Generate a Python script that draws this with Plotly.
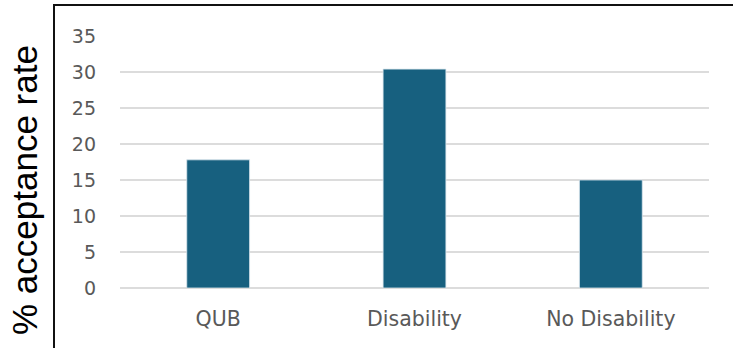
import plotly.graph_objects as go

# Acceptance rate by group
groups = ["QUB", "Disability", "No Disability"]
acceptance_rate = [17.8, 30.4, 15.0]
y_ticks = [0, 5, 10, 15, 20, 25, 30, 35]

W, H = 733, 348
L, R, T, B = 120, 24, 36, 60
pw, ph = W - L - R, H - T - B

def px_x(x):
    return (x - L) / pw

def px_y(y):
    return 1 - (y - T) / ph

fig = go.Figure(
    go.Bar(
        x=groups,
        y=acceptance_rate,
        marker=dict(color="#17607f", line=dict(color="#dbe6ee", width=0.8)),
        width=0.32,
        hoverinfo="x+y",
    )
)

fig.update_layout(
    width=W,
    height=H,
    margin=dict(l=L, r=R, t=T, b=B),
    paper_bgcolor="white",
    plot_bgcolor="white",
    showlegend=False,
    xaxis=dict(
        showgrid=False,
        showline=False,
        ticks="",
        tickfont=dict(family="DejaVu Sans", size=20.5, color="#595959"),
        ticklabelstandoff=16,
    ),
    yaxis=dict(
        range=[0, 35],
        tickvals=y_ticks,
        showgrid=True,
        gridcolor="#dcdcdc",
        gridwidth=1.5,
        zeroline=True,
        zerolinecolor="#dcdcdc",
        zerolinewidth=1.5,
        showline=False,
        ticks="",
        tickfont=dict(family="DejaVu Sans", size=19, color="#595959"),
        ticklabelstandoff=23,
    ),
    shapes=[
        # frame around the chart area
        dict(type="line", xref="paper", yref="paper",
             x0=px_x(54), x1=px_x(54), y0=px_y(5), y1=px_y(H + 5),
             line=dict(color="#111111", width=2)),
        dict(type="line", xref="paper", yref="paper",
             x0=px_x(53), x1=px_x(W + 5), y0=px_y(5), y1=px_y(5),
             line=dict(color="#111111", width=2)),
    ],
    annotations=[
        dict(text="% acceptance rate", textangle=-90,
             xref="paper", yref="paper", x=px_x(24), y=px_y(190),
             xanchor="center", yanchor="middle", showarrow=False,
             font=dict(family="Liberation Sans", size=35, color="#000000")),
    ],
)

fig.write_html("out.html")
